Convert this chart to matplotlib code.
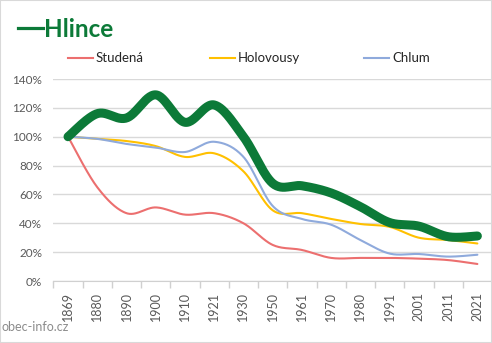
import matplotlib
matplotlib.use("Agg")
import matplotlib.pyplot as plt
import matplotlib.ticker as mticker
from matplotlib.patches import Rectangle
import numpy as np

plt.rcParams['font.family'] = ['Lato', 'DejaVu Sans']

years = ["1869", "1880", "1890", "1900", "1910", "1921", "1930", "1950",
         "1961", "1970", "1980", "1991", "2001", "2011", "2021"]

# population relative to 1869
studena = [1.00, 0.65, 0.47, 0.51, 0.46, 0.47, 0.40, 0.25, 0.215, 0.16, 0.16, 0.16, 0.155, 0.145, 0.118]
holovousy = [1.00, 0.985, 0.97, 0.935, 0.86, 0.885, 0.76, 0.49, 0.47, 0.43, 0.395, 0.375, 0.30, 0.284, 0.26]
chlum = [1.00, 0.985, 0.95, 0.925, 0.894, 0.965, 0.86, 0.52, 0.43, 0.39, 0.284, 0.19, 0.187, 0.169, 0.182]
hlince = [1.00, 1.16, 1.13, 1.29, 1.10, 1.22, 1.00, 0.677, 0.66, 0.61, 0.515, 0.405, 0.38, 0.307, 0.312]

colors = {"Studená": "#ec6f6f", "Holovousy": "#ffc000", "Chlum": "#8faadc", "Hlince": "#0c7a38"}


def smooth(y, n=30):
    # cubic bezier through the points, tangents as in catmull-rom
    y = np.asarray(y, dtype=float)
    x = np.arange(len(y), dtype=float)
    p = np.column_stack([x, y])
    ext = np.vstack([p[0], p, p[-1]])
    out = []
    t = np.linspace(0, 1, n)[:, None]
    for i in range(len(p) - 1):
        p0, p1, p2, p3 = ext[i], ext[i + 1], ext[i + 2], ext[i + 3]
        c1 = p1 + (p2 - p0) / 6
        c2 = p2 - (p3 - p1) / 6
        seg = ((1 - t) ** 3) * p1 + 3 * ((1 - t) ** 2) * t * c1 + 3 * (1 - t) * t ** 2 * c2 + t ** 3 * p2
        out.append(seg if i == 0 else seg[1:])
    out = np.vstack(out)
    return out[:, 0], out[:, 1]


fig = plt.figure(figsize=(4.92, 3.43), dpi=100)
ax = fig.add_axes([53.4 / 492, 62 / 343, 1 - 53.4 / 492, 202 / 343])

for name, vals, lw in [("Studená", studena, 1.5), ("Holovousy", holovousy, 1.5),
                       ("Chlum", chlum, 1.5), ("Hlince", hlince, 6.5)]:
    xs, ys = smooth(vals)
    ax.plot(xs, ys, color=colors[name], lw=lw, solid_capstyle='round', label=name, zorder=3)

ax.set_xlim(-0.5, 14.5)
ax.set_ylim(0, 1.4)
ax.set_yticks(np.arange(0, 1.41, 0.2))
ax.yaxis.set_major_formatter(mticker.FuncFormatter(lambda v, p: f"{v * 100:.0f}%"))
ax.grid(axis='y', color='#d9d9d9', lw=1)
ax.set_axisbelow(True)

ax.set_xticks(range(len(years)))
ax.set_xticklabels(years, rotation=90)
ax.set_xticks(np.arange(-0.5, 15, 1), minor=True)
ax.tick_params(axis='x', which='major', length=0, pad=8, labelsize=9, labelcolor='#595959')
ax.tick_params(axis='x', which='minor', length=5, color='#d0d0d0', width=1)
ax.tick_params(axis='y', length=0, pad=8, labelsize=8.5, labelcolor='#595959')
for s in ['top', 'right', 'left']:
    ax.spines[s].set_visible(False)
ax.spines['bottom'].set_color('#d0d0d0')

# series name as title, with its own line sample
fig.add_artist(plt.Line2D([18 / 492, 43 / 492], [1 - 27.5 / 343, 1 - 27.5 / 343],
                          color=colors["Hlince"], lw=2.3))
fig.text(44 / 492, 1 - 36.7 / 343, "Hlince", color=colors["Hlince"], fontsize=17.5,
         fontweight='bold', va='baseline', ha='left')

# legend row
leg_y = 1 - 58 / 343
for name, x0 in [("Studená", 68), ("Holovousy", 210), ("Chlum", 364)]:
    fig.add_artist(plt.Line2D([x0 / 492, (x0 + 25) / 492], [leg_y, leg_y],
                              color=colors[name], lw=1.5))
    fig.text((x0 + 28) / 492, leg_y, name, color='#262626', fontsize=9.5, va='center', ha='left')

fig.text(2 / 492, 1 - 327 / 343, "obec-info.cz", color='#8c8c8c', fontsize=9, va='center', ha='left')

fig.add_artist(Rectangle((0, 0), 1, 1, transform=fig.transFigure, fill=False,
                         edgecolor='#d9d9d9', lw=1.5))

fig.savefig("out.png", dpi=100)
